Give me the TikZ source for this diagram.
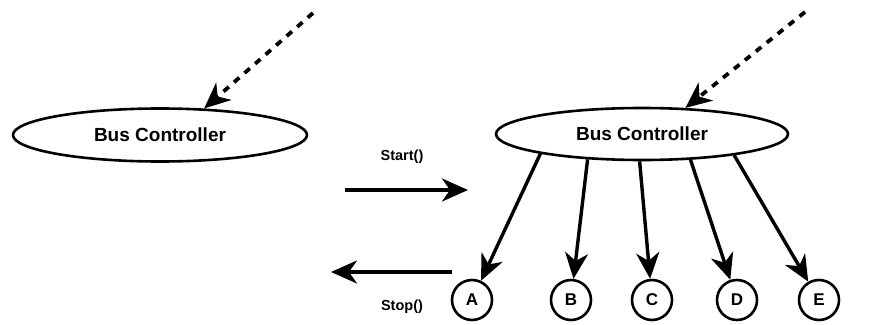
\documentclass[tikz,border=0pt]{standalone}
\usepackage{fontspec}
\setmainfont{Liberation Sans}
\usetikzlibrary{arrows.meta,shapes.geometric}
\tikzset{
  bus/.style={ellipse, draw, line width=2.6pt, minimum width=294pt, minimum height=53pt, inner sep=0pt,
    font=\fontsize{19}{22}\selectfont\bfseries},
  dev/.style={circle, draw, line width=2.6pt, minimum size=40pt, inner sep=0pt,
    font=\fontsize{17}{20}\selectfont\bfseries},
  lbl/.style={font=\fontsize{14.5}{17}\selectfont\bfseries, inner sep=0pt},
  tiparrow/.style={-{Stealth[length=26pt,width=23pt,inset=8pt]}},
  conn/.style={tiparrow, line width=3.4pt},
  dashconn/.style={tiparrow, line width=3.8pt, dash pattern=on 7pt off 7pt},
}
\begin{document}
\begin{tikzpicture}[x=1pt,y=-1pt]
\useasboundingbox (0,0) rectangle (883,324);
\node[bus] (bc1) at (160,135) {Bus Controller};
\node[bus, minimum width=292pt, minimum height=52pt] (bc2) at (642,134) {Bus Controller};
\coordinate (s1) at (313,13);
\coordinate (s2) at (805,12);
\draw[dashconn] (s1) -- (bc1.31);
\draw[dashconn] (s2) -- (bc2.31);
\node[dev] (a) at (472,300) {A};
\node[dev] (b) at (571,300) {B};
\node[dev] (c) at (652,300) {C};
\node[dev] (d) at (737,300) {D};
\node[dev] (e) at (819,300) {E};
\draw[conn] (bc2.191.3) -- (a);
\draw[conn] (bc2.205.6) -- (b);
\draw[conn] (bc2.265.6) -- (c);
\draw[conn] (bc2.332.9) -- (d);
\draw[conn] (bc2.347.9) -- (e);
\coordinate (st1) at (345,190);
\coordinate (st2) at (468,190);
\coordinate (sp1) at (452,272);
\coordinate (sp2) at (331,272);
\draw[conn] (st1) -- (st2);
\draw[conn] (sp1) -- (sp2);
\node[lbl] (start) at (402,157) {Start()};
\node[lbl] (stop) at (402,307) {Stop()};
\end{tikzpicture}
\end{document}
